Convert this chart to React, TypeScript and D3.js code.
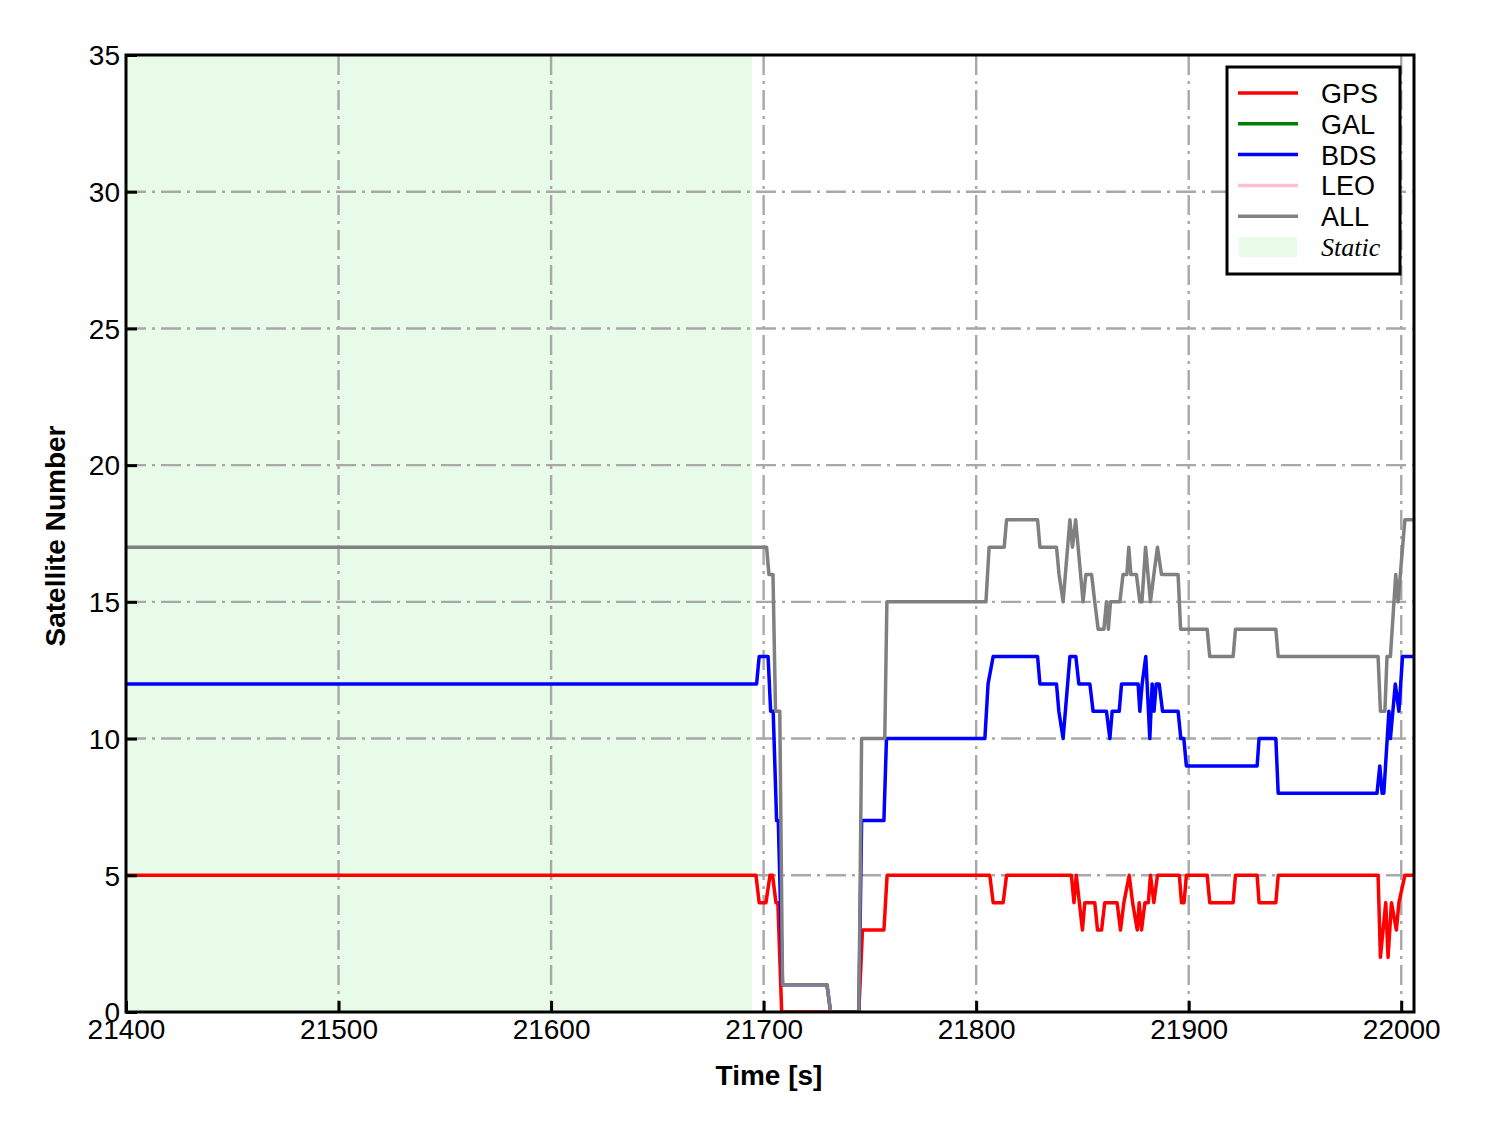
import React, { useRef, useEffect } from 'react';
import * as d3 from 'd3';

// [time (s), satellite count]
const gps: [number, number][] = [
  [21400, 5], [21696.4, 5], [21697.9, 4], [21701.1, 4], [21703, 5], [21704.2, 5], [21705.8, 4], [21706.7, 4],
  [21708.5, 0], [21744.8, 0], [21746.5, 3], [21756.6, 3], [21758.1, 5], [21806.4, 5], [21808, 4], [21812.7, 4],
  [21814.3, 5], [21844.8, 5], [21846, 4], [21847.1, 5], [21850, 3], [21851.1, 4], [21855.8, 4], [21857.1, 3],
  [21859, 3], [21860.5, 4], [21866.3, 4], [21867.9, 3], [21869.5, 4], [21872, 5], [21873.6, 4], [21875.8, 3],
  [21876.7, 4], [21877.8, 3], [21879.4, 4], [21881, 4], [21882, 5], [21883.6, 4], [21885.3, 5], [21895.6, 5],
  [21896.6, 4], [21897.8, 4], [21898.9, 5], [21908.7, 5], [21909.9, 4], [21920.9, 4], [21922, 5], [21932.2, 5],
  [21933.1, 4], [21941, 4], [21942.1, 5], [21989.1, 5], [21990.2, 2], [21992.7, 4], [21993.8, 2], [21995.4, 4],
  [21997.7, 3], [21998.9, 4], [22001.7, 5], [22006, 5],
];
const gal: [number, number][] = [];
const bds: [number, number][] = [
  [21400, 12], [21696.7, 12], [21697.9, 13], [21702.1, 13], [21703.3, 11], [21704.5, 11], [21706.1, 7], [21706.9, 7],
  [21708.9, 1], [21729.8, 1], [21731.5, 0], [21744.8, 0], [21746.1, 7], [21756.6, 7], [21757.8, 10], [21804.1, 10],
  [21805.6, 12], [21808, 13], [21828.9, 13], [21830, 12], [21837.8, 12], [21838.9, 11], [21840.9, 10], [21844.1, 13],
  [21846.9, 13], [21848.3, 12], [21853.5, 12], [21855, 11], [21861.3, 11], [21862.9, 10], [21864, 11], [21867.3, 11],
  [21868.4, 12], [21876.2, 12], [21877, 11], [21878.1, 12], [21879.8, 13], [21881.7, 10], [21882.8, 12], [21883.7, 11],
  [21884.7, 12], [21886.1, 12], [21887.7, 11], [21895, 11], [21896.3, 10], [21897.7, 10], [21898.9, 9], [21932.2, 9],
  [21933.1, 10], [21941, 10], [21942.1, 8], [21988.6, 8], [21989.9, 9], [21991, 8], [21991.8, 8], [21994.2, 11],
  [21994.9, 10], [21997.2, 12], [21998.9, 11], [22000.6, 13], [22006, 13],
];
const leo: [number, number][] = [];
const all: [number, number][] = [
  [21400, 17], [21701.4, 17], [21702.5, 16], [21704.4, 16], [21705.6, 11], [21707.6, 11], [21708.9, 1], [21729.8, 1],
  [21731.5, 0], [21744.8, 0], [21746.1, 10], [21757, 10], [21758, 15], [21804.6, 15], [21806.1, 17], [21813.2, 17],
  [21814.3, 18], [21828.9, 18], [21830, 17], [21837.8, 17], [21839, 16], [21840.9, 15], [21844.1, 18], [21845.3, 17],
  [21846.8, 18], [21850.3, 15], [21851.6, 16], [21854.3, 16], [21855.8, 15], [21857.4, 14], [21860.1, 14], [21861.3, 15],
  [21862.2, 14], [21863.2, 15], [21867.6, 15], [21869.1, 16], [21870.9, 16], [21871.8, 17], [21872.8, 16], [21875.4, 16],
  [21877, 15], [21878, 15], [21879.7, 17], [21882, 15], [21883.6, 16], [21885.3, 17], [21887.2, 16], [21895, 16],
  [21896.2, 14], [21908.7, 14], [21909.9, 13], [21920.9, 13], [21922, 14], [21941, 14], [21942.1, 13], [21989.1, 13],
  [21990.2, 11], [21992.3, 11], [21993.3, 13], [21994.9, 13], [21997.4, 16], [21998.5, 15], [22001.7, 18], [22006, 18],
];

const seriesNames = ['GPS', 'GAL', 'BDS', 'LEO', 'ALL'];
const seriesData = [gps, gal, bds, leo, all];
const seriesColors = ['#ff0000', '#008000', '#0000ff', '#ffc0cb', '#808080'];
const staticSpan = [21400, 21694.5];
const xTicks = [21400, 21500, 21600, 21700, 21800, 21900, 22000];
const yTicks = [0, 5, 10, 15, 20, 25, 30, 35];

const App = () => {
  const ref = useRef<SVGSVGElement>(null);

  useEffect(() => {
    const W = 1488, H = 1133;
    const margin = { top: 55, right: 74, bottom: 121, left: 126 };
    const width = W - margin.left - margin.right;
    const height = H - margin.top - margin.bottom;
    const font = 'Liberation Sans, Arial, sans-serif';

    const svg = d3.select(ref.current).attr('width', W).attr('height', H);
    svg.selectAll('*').remove();
    svg.append('rect').attr('width', W).attr('height', H).attr('fill', 'white');

    const g = svg.append('g').attr('transform', `translate(${margin.left},${margin.top})`);

    const x = d3.scaleLinear().domain([21400, 22006]).range([0, width]);
    const y = d3.scaleLinear().domain([0, 35]).range([height, 0]);

    g.append('clipPath').attr('id', 'clip')
      .append('rect').attr('width', width).attr('height', height);

    // static span
    g.append('rect')
      .attr('x', x(staticSpan[0])).attr('y', 0)
      .attr('width', x(staticSpan[1]) - x(staticSpan[0])).attr('height', height)
      .attr('fill', '#e8fbe8');

    // grid
    const dash = '20,6,3,6';
    g.selectAll('.gx').data(xTicks.slice(1)).enter().append('line')
      .attr('x1', d => x(d)).attr('x2', d => x(d)).attr('y1', 0).attr('y2', height)
      .attr('stroke', '#a8a8a8').attr('stroke-width', 2.4).attr('stroke-dasharray', dash);
    g.selectAll('.gy').data(yTicks.slice(1, -1)).enter().append('line')
      .attr('x1', 0).attr('x2', width).attr('y1', d => y(d)).attr('y2', d => y(d))
      .attr('stroke', '#a8a8a8').attr('stroke-width', 2.4).attr('stroke-dasharray', dash);

    // lines
    const line = d3.line<[number, number]>().x(d => x(d[0])).y(d => y(d[1]));
    const lines = g.append('g').attr('clip-path', 'url(#clip)');
    seriesData.forEach((data, i) => {
      if (!data.length) return;
      lines.append('path').datum(data)
        .attr('fill', 'none').attr('stroke', seriesColors[i]).attr('stroke-width', 3.5)
        .attr('stroke-linejoin', 'round')
        .attr('d', line);
    });

    // axes
    const xAxis = g.append('g').attr('transform', `translate(0,${height})`)
      .call(d3.axisBottom(x).tickValues(xTicks).tickSize(-11).tickSizeOuter(0).tickPadding(7).tickFormat(d3.format('d')));
    const yAxis = g.append('g')
      .call(d3.axisLeft(y).tickValues(yTicks).tickSize(-11).tickSizeOuter(0).tickPadding(6));
    [xAxis, yAxis].forEach(a => {
      a.select('.domain').remove();
      a.selectAll('.tick line').attr('stroke', 'black').attr('stroke-width', 3);
      a.selectAll('.tick text').attr('fill', 'black').attr('font-size', 28).attr('font-family', font);
    });
    yAxis.selectAll('.tick text').attr('dy', '0.35em');

    g.append('rect').attr('width', width).attr('height', height)
      .attr('fill', 'none').attr('stroke', 'black').attr('stroke-width', 3);

    // labels
    svg.append('text')
      .attr('x', 769).attr('y', 1085)
      .attr('text-anchor', 'middle').attr('font-size', 28).attr('font-weight', 'bold').attr('font-family', font)
      .text('Time [s]');
    svg.append('text')
      .attr('transform', `translate(65,536) rotate(-90)`)
      .attr('text-anchor', 'middle').attr('font-size', 28).attr('font-weight', 'bold').attr('font-family', font)
      .text('Satellite Number');

    // legend
    const lg = svg.append('g');
    lg.append('rect').attr('x', 1227).attr('y', 67).attr('width', 173).attr('height', 207)
      .attr('fill', 'white').attr('stroke', 'black').attr('stroke-width', 3);
    seriesNames.forEach((name, i) => {
      const yy = 93 + i * 30.8;
      lg.append('line').attr('x1', 1238).attr('x2', 1298).attr('y1', yy).attr('y2', yy)
        .attr('stroke', seriesColors[i]).attr('stroke-width', 3.5);
      lg.append('text').attr('x', 1321).attr('y', yy + 10)
        .attr('font-size', 27).attr('font-family', font).text(name);
    });
    const sy = 93 + 5 * 30.8;
    lg.append('rect').attr('x', 1239).attr('y', sy - 10).attr('width', 58).attr('height', 20).attr('fill', '#e8fbe8');
    lg.append('text').attr('x', 1321).attr('y', sy + 9)
      .attr('font-size', 26).attr('font-style', 'italic').attr('font-family', 'Liberation Serif, Times New Roman, serif')
      .text('Static');
  }, []);

  return (
    <div style={{ position: 'absolute', left: 0, top: 0 }}>
      <svg ref={ref}></svg>
    </div>
  );
};

export default App;
